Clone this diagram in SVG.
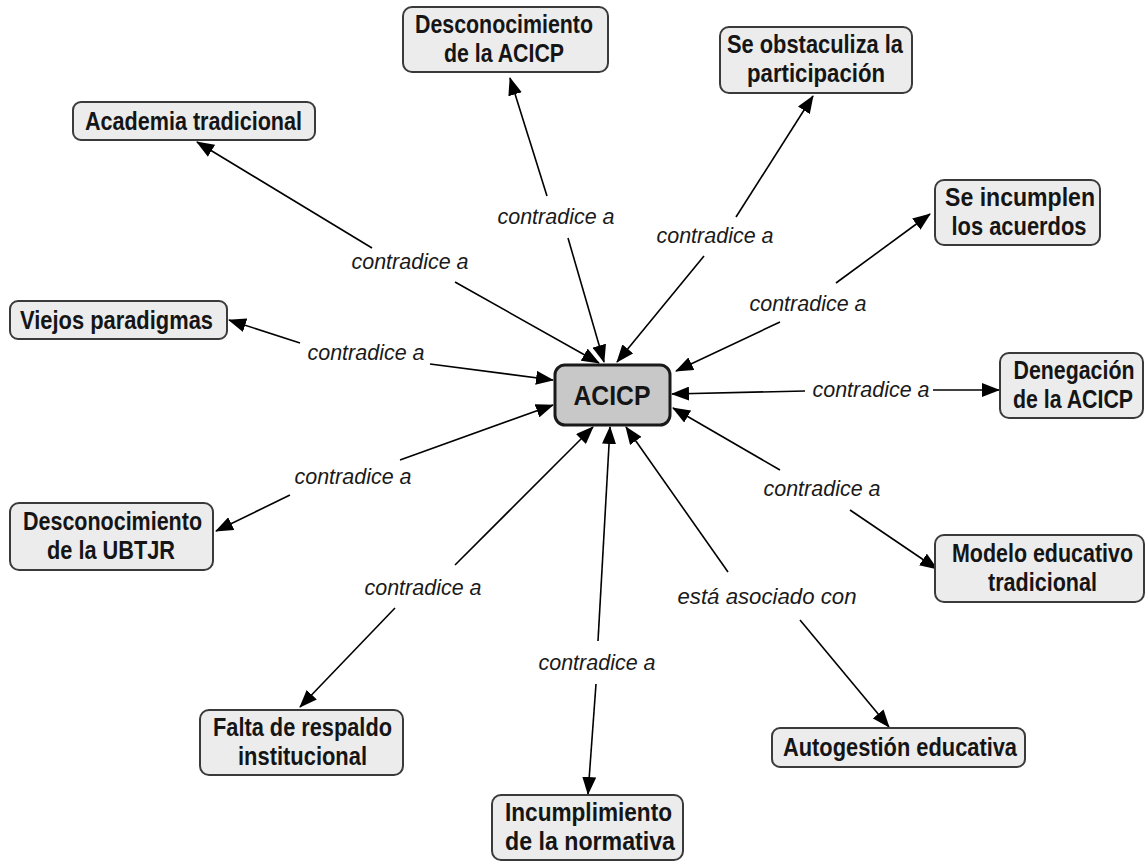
<svg xmlns="http://www.w3.org/2000/svg" width="1146" height="862" viewBox="0 0 1146 862">
<style>
.n rect{fill:#ececec;stroke:#3a3a3a;stroke-width:2}
.n text{font-family:"Liberation Sans",Arial,sans-serif;font-weight:bold;font-size:25px;fill:#151515;text-anchor:middle}
.c text{font-family:"Liberation Sans",Arial,sans-serif;font-style:italic;font-size:21.5px;fill:#1a1a1a;text-anchor:middle}
.c line{stroke:#000;stroke-width:1.6;marker-end:url(#ah)}
</style>
<defs>
<marker id="ah" markerUnits="userSpaceOnUse" markerWidth="18" markerHeight="14" viewBox="0 0 18 14" refX="17" refY="7" orient="auto">
<path d="M0,0 L18,7 L0,14 Z" fill="#000"/>
</marker>
</defs>
<rect width="1146" height="862" fill="#fff"/>
<g class="c" id="connectors">
<line x1="372" y1="248" x2="197" y2="142"/>
<line x1="455" y1="282" x2="599" y2="363"/>
<text x="410" y="269" textLength="117" lengthAdjust="spacingAndGlyphs">contradice a</text>
<line x1="547" y1="196" x2="510" y2="78"/>
<line x1="568" y1="238" x2="604" y2="362"/>
<text x="556" y="224" textLength="117" lengthAdjust="spacingAndGlyphs">contradice a</text>
<line x1="736" y1="217" x2="813" y2="96"/>
<line x1="704" y1="256" x2="617" y2="362"/>
<text x="715" y="243" textLength="117" lengthAdjust="spacingAndGlyphs">contradice a</text>
<line x1="836" y1="283" x2="930" y2="214"/>
<line x1="780" y1="322" x2="676" y2="371"/>
<text x="808" y="311" textLength="117" lengthAdjust="spacingAndGlyphs">contradice a</text>
<line x1="300" y1="343" x2="229" y2="320"/>
<line x1="430" y1="364" x2="553" y2="380"/>
<text x="366" y="360" textLength="117" lengthAdjust="spacingAndGlyphs">contradice a</text>
<line x1="933" y1="390" x2="999" y2="390"/>
<line x1="805" y1="391" x2="672" y2="394"/>
<text x="871" y="397" textLength="117" lengthAdjust="spacingAndGlyphs">contradice a</text>
<line x1="290" y1="495" x2="216" y2="531"/>
<line x1="400" y1="460" x2="553" y2="405"/>
<text x="353" y="484" textLength="117" lengthAdjust="spacingAndGlyphs">contradice a</text>
<line x1="850" y1="510" x2="937" y2="569"/>
<line x1="780" y1="470" x2="673" y2="408"/>
<text x="822" y="496" textLength="117" lengthAdjust="spacingAndGlyphs">contradice a</text>
<line x1="395" y1="608" x2="300" y2="707"/>
<line x1="455" y1="565" x2="593" y2="427"/>
<text x="423" y="595" textLength="117" lengthAdjust="spacingAndGlyphs">contradice a</text>
<line x1="800" y1="620" x2="889" y2="727"/>
<line x1="728" y1="572" x2="626" y2="427"/>
<text x="767" y="604" textLength="179" lengthAdjust="spacingAndGlyphs">está asociado con</text>
<line x1="596" y1="684" x2="588" y2="794"/>
<line x1="598" y1="641" x2="610" y2="427"/>
<text x="597" y="670" textLength="117" lengthAdjust="spacingAndGlyphs">contradice a</text>
</g>
<g class="n" id="n-acicp">
<rect x="555" y="365" width="115" height="60" rx="10" style="fill:#c8c8c8;stroke:#1a1a1a;stroke-width:3"/>
<text x="612" y="405" style="font-size:28px" textLength="77" lengthAdjust="spacingAndGlyphs">ACICP</text>
</g>
<g class="n" id="n-desc-acicp">
<rect x="403" y="7" width="205" height="65" rx="9"/>
<text x="504" y="33" textLength="178" lengthAdjust="spacingAndGlyphs">Desconocimiento</text>
<text x="504" y="62" textLength="120" lengthAdjust="spacingAndGlyphs">de la ACICP</text>
</g>
<g class="n" id="n-obst">
<rect x="720" y="27" width="192" height="66" rx="9"/>
<text x="815" y="53" textLength="176" lengthAdjust="spacingAndGlyphs">Se obstaculiza la</text>
<text x="816" y="82" textLength="138" lengthAdjust="spacingAndGlyphs">participación</text>
</g>
<g class="n" id="n-academia">
<rect x="73" y="102" width="242" height="38" rx="8"/>
<text x="193.5" y="130" textLength="217" lengthAdjust="spacingAndGlyphs">Academia tradicional</text>
</g>
<g class="n" id="n-incumplen">
<rect x="935" y="180" width="165" height="65" rx="9"/>
<text x="1020" y="206" textLength="150" lengthAdjust="spacingAndGlyphs">Se incumplen</text>
<text x="1019" y="235" textLength="135" lengthAdjust="spacingAndGlyphs">los acuerdos</text>
</g>
<g class="n" id="n-viejos">
<rect x="10" y="301" width="217" height="38" rx="8"/>
<text x="116.5" y="329" textLength="193" lengthAdjust="spacingAndGlyphs">Viejos paradigmas</text>
</g>
<g class="n" id="n-denegacion">
<rect x="1000" y="353" width="143" height="65" rx="9"/>
<text x="1074" y="379" textLength="121" lengthAdjust="spacingAndGlyphs">Denegación</text>
<text x="1073" y="408" textLength="120" lengthAdjust="spacingAndGlyphs">de la ACICP</text>
</g>
<g class="n" id="n-ubtjr">
<rect x="10" y="503" width="203" height="67" rx="9"/>
<text x="112.5" y="530" textLength="179" lengthAdjust="spacingAndGlyphs">Desconocimiento</text>
<text x="111" y="559" textLength="128" lengthAdjust="spacingAndGlyphs">de la UBTJR</text>
</g>
<g class="n" id="n-modelo">
<rect x="935" y="535" width="209" height="67" rx="9"/>
<text x="1042.5" y="562" textLength="181" lengthAdjust="spacingAndGlyphs">Modelo educativo</text>
<text x="1042.5" y="591" textLength="109" lengthAdjust="spacingAndGlyphs">tradicional</text>
</g>
<g class="n" id="n-falta">
<rect x="200" y="710" width="203" height="65" rx="9"/>
<text x="302.5" y="736" textLength="179" lengthAdjust="spacingAndGlyphs">Falta de respaldo</text>
<text x="302.5" y="765" textLength="129" lengthAdjust="spacingAndGlyphs">institucional</text>
</g>
<g class="n" id="n-autogestion">
<rect x="772" y="728" width="253" height="39" rx="8"/>
<text x="900" y="756" textLength="234" lengthAdjust="spacingAndGlyphs">Autogestión educativa</text>
</g>
<g class="n" id="n-incumplimiento">
<rect x="492" y="795" width="191" height="65" rx="9"/>
<text x="588.5" y="821" textLength="167" lengthAdjust="spacingAndGlyphs">Incumplimiento</text>
<text x="590" y="850" textLength="170" lengthAdjust="spacingAndGlyphs">de la normativa</text>
</g>
</svg>
